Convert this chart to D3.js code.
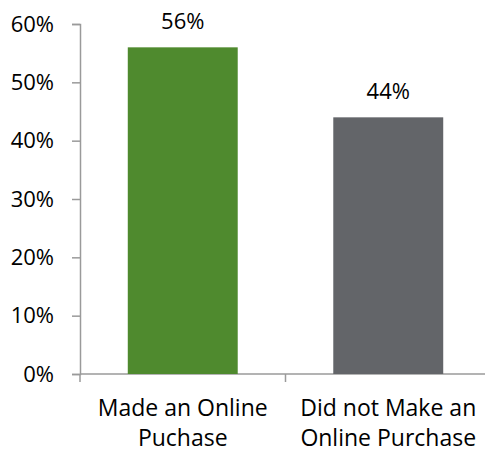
<!DOCTYPE html>
<html>
<head>
<meta charset="utf-8">
<script src="https://cdn.jsdelivr.net/npm/d3@7"></script>
<style>
  body { margin: 0; background: #fff; }
  text { font-family: "Open Sans", sans-serif; fill: #000; }
</style>
</head>
<body>
<div id="chart"></div>
<script>
//Chart data
let categories = [["Made an Online", "Puchase"], ["Did not Make an", "Online Purchase"]]
let values = [0.56, 0.44]
let bar_colors = ["#4f8a2e", "#636569"]
let y_ticks = [0, 0.1, 0.2, 0.3, 0.4, 0.5, 0.6]

let width = 485, height = 453
let margin = {left: 80, top: 24, bottom: 79}
let svg = d3.select('#chart').append('svg').attr('width', width).attr('height', height)

//Scales
let x = d3.scaleBand().domain(d3.range(categories.length)).range([margin.left, 491]).paddingInner(0).paddingOuter(0)
let y = d3.scaleLinear().domain([0, 0.6]).range([height - margin.bottom, margin.top])
let bar_w = x.bandwidth() * 0.535

//Y axis
let yAxis = d3.axisLeft(y).tickValues(y_ticks).tickFormat(d3.format('.0%')).tickSize(8).tickPadding(18)
let gy = svg.append('g').attr('transform', 'translate(' + margin.left + ',0)').call(yAxis)
gy.select('.domain').attr('stroke', '#9a9a9a').attr('stroke-width', 1.5)
gy.selectAll('.tick line').attr('stroke', '#9a9a9a').attr('stroke-width', 1.5)
gy.selectAll('.tick text').style('font-size', '22px')

//X axis (ticks on band edges)
let base = y(0)
svg.append('line').attr('x1', margin.left).attr('x2', width).attr('y1', base).attr('y2', base)
    .attr('stroke', '#9a9a9a').attr('stroke-width', 1.5)
d3.range(categories.length + 1).forEach(i => {
    let xp = margin.left + i * x.step()
    svg.append('line').attr('x1', xp).attr('x2', xp).attr('y1', base).attr('y2', base + 8)
        .attr('stroke', '#9a9a9a').attr('stroke-width', 1.5)
})

//Bars
svg.selectAll('.bar').data(values).enter().append('rect')
    .attr('class', 'bar')
    .attr('x', (d, i) => x(i) + (x.bandwidth() - bar_w) / 2)
    .attr('y', d => y(d))
    .attr('width', bar_w)
    .attr('height', d => base - y(d))
    .attr('fill', (d, i) => bar_colors[i])

//Value labels
svg.selectAll('.val').data(values).enter().append('text')
    .attr('x', (d, i) => x(i) + x.bandwidth() / 2)
    .attr('y', d => y(d) - 18)
    .attr('text-anchor', 'middle')
    .style('font-size', '22px')
    .text(d => d3.format('.0%')(d))

//Category labels
categories.forEach((lines, i) => {
    lines.forEach((l, j) => {
        svg.append('text')
            .attr('x', x(i) + x.bandwidth() / 2)
            .attr('y', 416 + j * 30)
            .attr('text-anchor', 'middle')
            .style('font-size', '23px')
            .text(l)
    })
})
</script>
</body>
</html>
